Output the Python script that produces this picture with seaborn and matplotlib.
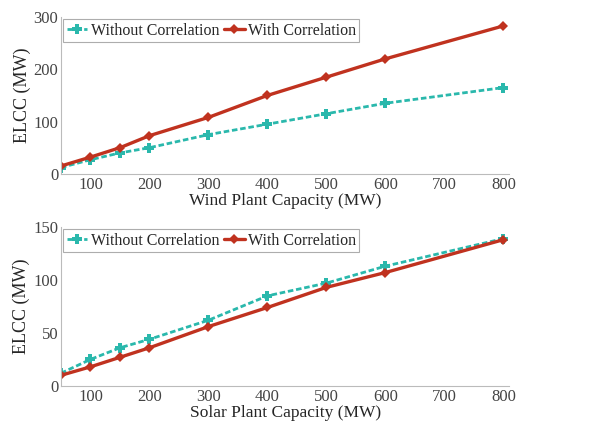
import matplotlib
matplotlib.use("Agg")
import matplotlib.pyplot as plt
import seaborn as sns
import pandas as pd

# capacities (MW)
capacity = [50, 100, 150, 200, 300, 400, 500, 600, 800]

# ELCC (MW)
wind_without = [12, 27, 40, 50, 75, 95, 115, 135, 165]
wind_with = [15, 32, 50, 73, 108, 150, 185, 220, 283]
solar_without = [12, 25, 36, 44, 62, 85, 97, 113, 139]
solar_with = [10, 18, 27, 36, 56, 74, 93, 107, 138]

series_names = ["Without Correlation", "With Correlation"]
colors = {"Without Correlation": "#2ab8ac", "With Correlation": "#c0321f"}
x_ticks = [100, 200, 300, 400, 500, 600, 700, 800]

sns.set_style("white")
plt.rcParams["font.family"] = ["Liberation Serif", "DejaVu Serif"]
plt.rcParams["font.size"] = 11


def make_df(without, with_):
    rows = []
    for name, vals in zip(series_names, [without, with_]):
        for c, v in zip(capacity, vals):
            rows.append({"cap": c, "elcc": v, "series": name})
    return pd.DataFrame(rows)


def draw(ax, df, ymax, yticks, xlabel):
    for name in series_names:
        sub = df[df["series"] == name]
        dashed = name == "Without Correlation"
        sns.lineplot(data=sub, x="cap", y="elcc", ax=ax, color=colors[name],
                     linestyle=(0, (2, 1)) if dashed else "-",
                     linewidth=2.0 if dashed else 2.4,
                     marker="P" if dashed else "D", markersize=6.5 if dashed else 5,
                     markeredgewidth=0, label=name)
    ax.set_xlim(50, 810)
    ax.set_ylim(0, ymax)
    ax.set_xticks(x_ticks)
    ax.set_yticks(yticks)
    ax.set_xlabel(xlabel, fontsize=12.5, labelpad=0.5)
    ax.set_ylabel("ELCC (MW)", fontsize=13, labelpad=2)
    ax.tick_params(axis="both", labelsize=12, colors="#444444", length=2,
                   direction="in", pad=2)
    for s in ["top", "right"]:
        ax.spines[s].set_visible(False)
    for s in ["left", "bottom"]:
        ax.spines[s].set_color("#bbbbbb")
        ax.spines[s].set_linewidth(0.8)
    leg = ax.legend(loc="upper left", ncol=2, frameon=True, fontsize=11.5,
                    handlelength=1.3, handletextpad=0.2, columnspacing=0.3,
                    borderpad=0.2, borderaxespad=0.15, fancybox=False)
    leg.get_frame().set_edgecolor("#999999")
    leg.get_frame().set_linewidth(0.8)


fig = plt.figure(figsize=(6.1, 4.25), dpi=100)
ax1 = fig.add_axes([0.1, 0.591, 0.735, 0.369])
ax2 = fig.add_axes([0.1, 0.092, 0.735, 0.374])

draw(ax1, make_df(wind_without, wind_with), 300, [0, 100, 200, 300],
     "Wind Plant Capacity (MW)")
draw(ax2, make_df(solar_without, solar_with), 150, [0, 50, 100, 150],
     "Solar Plant Capacity (MW)")

fig.savefig("out.png", dpi=100)
